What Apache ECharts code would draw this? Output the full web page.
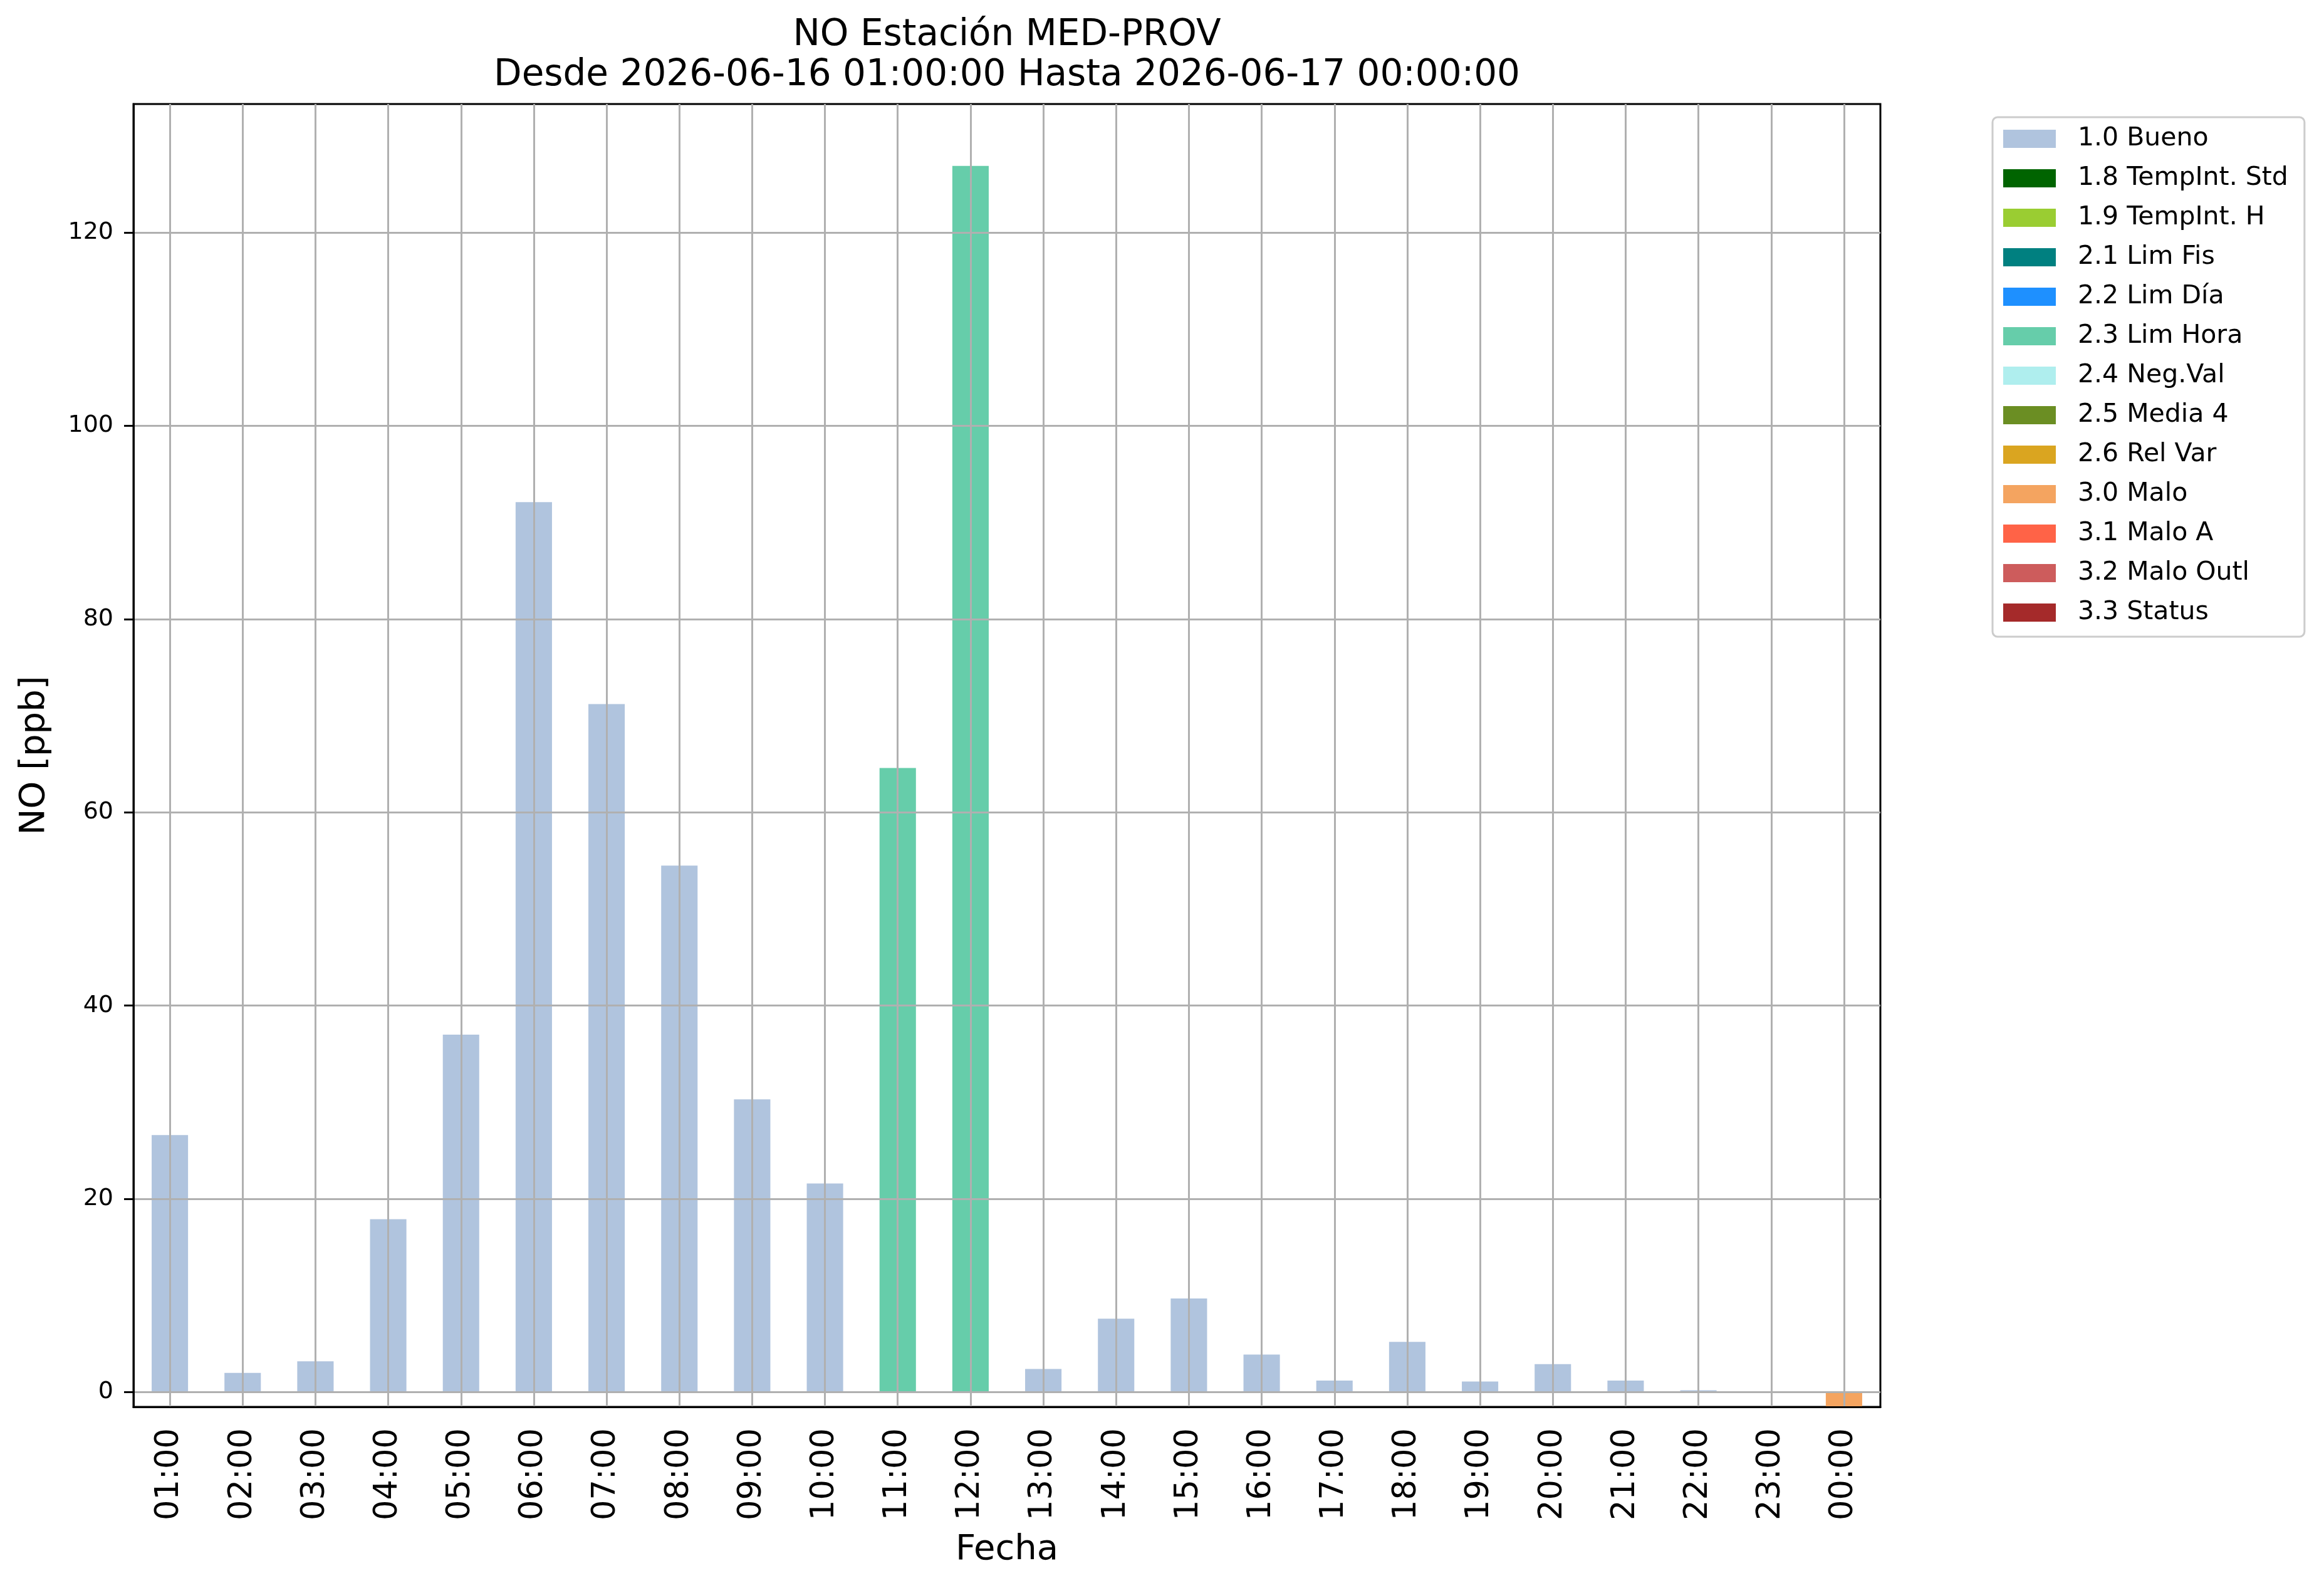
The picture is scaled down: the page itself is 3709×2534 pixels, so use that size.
<!DOCTYPE html>
<html>
<head>
    <meta charset="utf-8">
    <title>NO Estación MED-PROV</title>
    <script type="text/javascript" src="https://cdn.jsdelivr.net/npm/echarts@6.0.0/dist/echarts.min.js"></script>
    <style>
        body {
            margin: 0px;
            padding: 0px;
            background: #ffffff;
        }
        #chart {
            width: 3709px;
            height: 2534px;
        }
    </style>
</head>
<body>
<div id="chart"></div>
<script type="text/javascript">
    // horas del dia
    var horas = ['01:00', '02:00', '03:00', '04:00', '05:00', '06:00', '07:00', '08:00',
        '09:00', '10:00', '11:00', '12:00', '13:00', '14:00', '15:00', '16:00',
        '17:00', '18:00', '19:00', '20:00', '21:00', '22:00', '23:00', '00:00'];

    // valores NO [ppb] por bandera
    var bueno = [26.6, 2.0, 3.2, 17.9, 37.0, 92.1, 71.2, 54.5, 30.3, 21.6, null, null,
        2.4, 7.6, 9.7, 3.9, 1.2, 5.2, 1.1, 2.9, 1.2, 0.2, null, null];
    var limHora = [null, null, null, null, null, null, null, null, null, null, 64.6, 126.9,
        null, null, null, null, null, null, null, null, null, null, null, null];
    var malo = [null, null, null, null, null, null, null, null, null, null, null, null,
        null, null, null, null, null, null, null, null, null, null, null, -1.5];

    // banderas de la leyenda
    var banderas = ['1.0 Bueno', '1.8 TempInt. Std', '1.9 TempInt. H', '2.1 Lim Fis', '2.2 Lim Día',
        '2.3 Lim Hora', '2.4 Neg.Val', '2.5 Media 4', '2.6 Rel Var', '3.0 Malo',
        '3.1 Malo A', '3.2 Malo Outl', '3.3 Status'];
    var colores = ['#B0C4DE', '#006400', '#9ACD32', '#008080', '#1E90FF',
        '#66CDAA', '#AFEEEE', '#6B8E23', '#DAA520', '#F4A460',
        '#FF6347', '#CD5C5C', '#A52A2A'];
    var valoresPorBandera = {'1.0 Bueno': bueno, '2.3 Lim Hora': limHora, '3.0 Malo': malo};

    var yTicks = [0, 20, 40, 60, 80, 100, 120];

    var font = 'DejaVu Sans';
    var chart = echarts.init(document.getElementById('chart'));

    var series = [];
    for (var i = 0; i < banderas.length; i++) {
        series.push({
            name: banderas[i],
            type: 'bar',
            barWidth: '50%',
            barGap: '-100%',
            itemStyle: {color: colores[i]},
            data: valoresPorBandera[banderas[i]] || []
        });
    }

    var option = {
        animation: false,
        backgroundColor: '#ffffff',
        textStyle: {fontFamily: font},
        graphic: [
            {
                type: 'text', x: 1607, y: 57,
                style: {text: 'NO Estación MED-PROV', textAlign: 'center', textVerticalAlign: 'middle',
                    fontSize: 58, fontFamily: font, fill: '#000'}
            },
            {
                type: 'text', x: 1607, y: 121,
                style: {text: 'Desde 2026-06-16 01:00:00 Hasta 2026-06-17 00:00:00', textAlign: 'center',
                    textVerticalAlign: 'middle', fontSize: 58, fontFamily: font, fill: '#000'}
            }
        ],
        legend: {
            data: banderas,
            orient: 'vertical',
            left: 3180,
            top: 187,
            icon: 'rect',
            itemWidth: 84,
            itemHeight: 29,
            itemGap: 22,
            padding: [14, 26, 18, 17],
            backgroundColor: '#ffffff',
            borderColor: '#cccccc',
            borderWidth: 3,
            borderRadius: 8,
            textStyle: {fontSize: 41, lineHeight: 41, fontFamily: font, color: '#000', padding: [0, 0, 0, 30]}
        },
        grid: {
            left: 213,
            top: 166,
            width: 2788,
            height: 2079,
            show: true,
            borderColor: '#000',
            borderWidth: 3,
            containLabel: false
        },
        xAxis: {
            type: 'category',
            data: horas,
            z: 10,
            name: 'Fecha',
            nameLocation: 'middle',
            nameGap: 200,
            nameTextStyle: {fontSize: 56, fontFamily: font, color: '#000'},
            axisLine: {onZero: false, lineStyle: {color: '#000', width: 3}},
            axisTick: {alignWithLabel: true, length: 15, lineStyle: {color: '#000', width: 3}},
            axisLabel: {rotate: 90, margin: 34, fontSize: 51, fontFamily: font, color: '#000', interval: 0},
            splitLine: {show: true, alignWithLabel: true, lineStyle: {color: '#b0b0b0', width: 3}}
        },
        yAxis: {
            type: 'value',
            min: -1.52,
            max: 133.3,
            minInterval: 20,
            maxInterval: 20,
            z: 10,
            name: 'NO [ppb]',
            nameLocation: 'middle',
            nameGap: 130,
            nameTextStyle: {fontSize: 56, fontFamily: font, color: '#000'},
            axisLine: {show: true, lineStyle: {color: '#000', width: 3}},
            axisTick: {show: true, length: 15, customValues: yTicks, lineStyle: {color: '#000', width: 3}},
            axisLabel: {
                margin: 32, fontSize: 38, fontFamily: font, color: '#000', customValues: yTicks,
                formatter: function (v) { return (Math.abs(v % 20) < 1e-6) ? String(v) : ''; }
            },
            splitLine: {show: true, lineStyle: {color: '#b0b0b0', width: 3}}
        },
        series: series
    };
    chart.setOption(option);
</script>
</body>
</html>
